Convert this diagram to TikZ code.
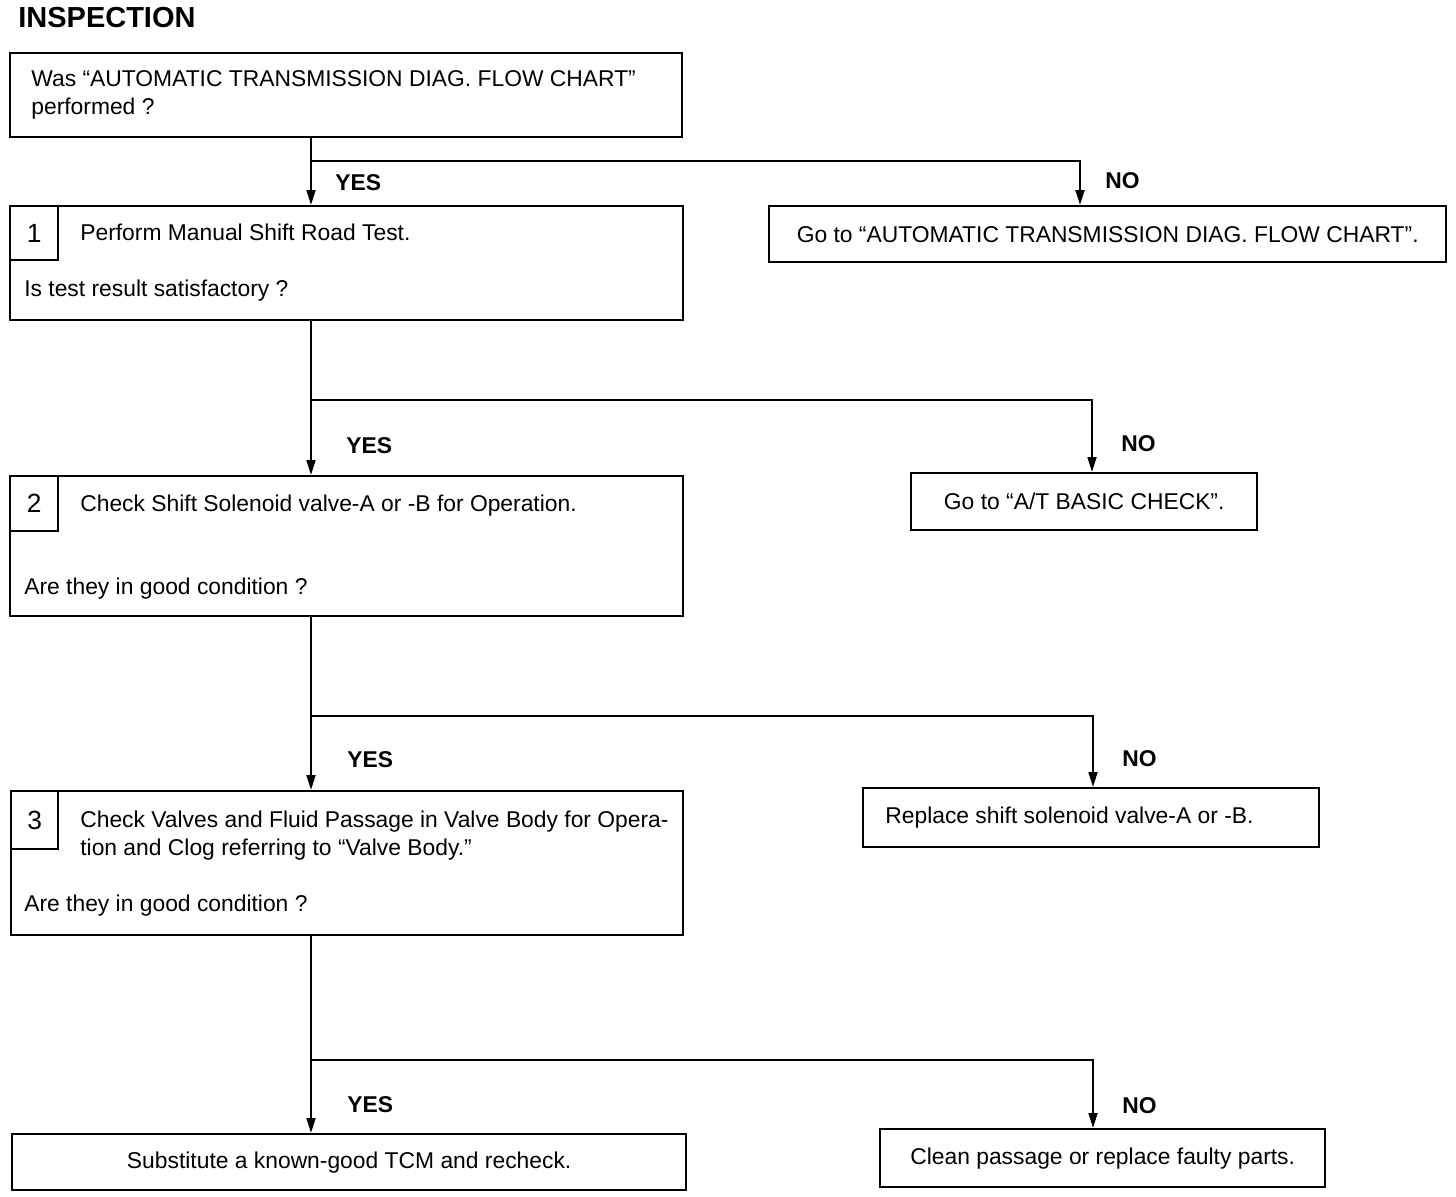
\documentclass[tikz,border=0pt]{standalone}
\usepackage{fontspec}
\setmainfont{Liberation Sans}
\usetikzlibrary{arrows.meta, positioning}
\tikzset{
  box/.style={
    draw, line width=1.4pt,
    inner sep=0pt, anchor=north west,
    font=\fontsize{13}{16}\selectfont
  },
  numbox/.style={
    box, font=\fontsize{15}{18}\selectfont
  },
  txt/.style={
    anchor=base west, inner sep=0pt,
    font=\fontsize{13}{16}\selectfont
  },
  answer/.style={
    anchor=base west, inner sep=0pt,
    font=\fontsize{13}{16}\selectfont\bfseries
  },
  arr/.style={
    -{Triangle[length=8.5pt,width=5pt]},
    line width=1.3pt
  }
}
\begin{document}
\begin{tikzpicture}[x=0.02cm, y=-0.02cm]
  \useasboundingbox (0,0) rectangle (1456,1196);
  % Title
  \node[anchor=base west, inner sep=0pt, font=\fontsize{16.5}{20}\selectfont\bfseries] (title) at (18,28) {INSPECTION};

  % Question box
  \node[box, minimum width=13.44cm, minimum height=1.68cm] (q0) at (9,52) {};
  \node[txt] (q0a) at (31,87) {Was “AUTOMATIC TRANSMISSION DIAG. FLOW CHART”};
  \node[txt] (q0b) at (31,115) {performed ?};

  % Step 1
  \node[box, minimum width=13.46cm, minimum height=2.28cm] (s1) at (9,205) {};
  \node[numbox, minimum width=0.96cm, minimum height=1.08cm] (num1) at (9,205) {1};
  \node[txt] (s1a) at (80,240) {Perform Manual Shift Road Test.};
  \node[txt] (s1b) at (24,296) {Is test result satisfactory ?};
  \node[box, minimum width=13.54cm, minimum height=1.12cm] (n1) at (768,205)
    {Go to “AUTOMATIC TRANSMISSION DIAG. FLOW CHART”.};

  % Step 2
  \node[box, minimum width=13.46cm, minimum height=2.8cm] (s2) at (9,475) {};
  \node[numbox, minimum width=0.96cm, minimum height=1.1cm] (num2) at (9,475) {2};
  \node[txt] (s2a) at (80,511) {Check Shift Solenoid valve-A or -B for Operation.};
  \node[txt] (s2b) at (24,594) {Are they in good condition ?};
  \node[box, minimum width=6.92cm, minimum height=1.14cm] (n2) at (910,472)
    {Go to “A/T BASIC CHECK”.};

  % Step 3
  \node[box, minimum width=13.44cm, minimum height=2.88cm] (s3) at (10,790) {};
  \node[numbox, minimum width=0.94cm, minimum height=1.16cm] (num3) at (10,790) {3};
  \node[txt] (s3a) at (80,827) {Check Valves and Fluid Passage in Valve Body for Opera-};
  \node[txt] (s3b) at (80,855) {tion and Clog referring to “Valve Body.”};
  \node[txt] (s3c) at (24,911) {Are they in good condition ?};
  \node[box, minimum width=9.12cm, minimum height=1.18cm] (n3) at (862,787) {};
  \node[txt] (n3a) at (885,823) {Replace shift solenoid valve-A or -B.};

  % Results
  \node[box, minimum width=13.48cm, minimum height=1.12cm] (y4) at (11,1133)
    {Substitute a known-good TCM and recheck.};
  \node[box, minimum width=8.9cm, minimum height=1.16cm] (n4) at (879,1128)
    {Clean passage or replace faulty parts.};

  % Branch points
  \coordinate (j1) at (311,161);
  \coordinate (k1) at (1080,161);
  \coordinate (j2) at (311,400);
  \coordinate (k2) at (1092,400);
  \coordinate (j3) at (311,716);
  \coordinate (k3) at (1093,716);
  \coordinate (j4) at (311,1060);
  \coordinate (k4) at (1093,1060);

  % Connectors
  \draw[arr] (q0.south -| j1) -- (s1.north -| j1);
  \draw[arr] (j1) -- (k1) -- (n1.north -| k1);
  \draw[arr] (s1.south -| j2) -- (s2.north -| j2);
  \draw[arr] (j2) -- (k2) -- (n2.north -| k2);
  \draw[arr] (s2.south -| j3) -- (s3.north -| j3);
  \draw[arr] (j3) -- (k3) -- (n3.north -| k3);
  \draw[arr] (s3.south -| j4) -- (y4.north -| j4);
  \draw[arr] (j4) -- (k4) -- (n4.north -| k4);

  % Labels
  \node[answer] (yes1) at (335,191) {YES};
  \node[answer] (no1) at (1105,189) {NO};
  \node[answer] (yes2) at (346,453) {YES};
  \node[answer] (no2) at (1121,451) {NO};
  \node[answer] (yes3) at (347,767) {YES};
  \node[answer] (no3) at (1122,766) {NO};
  \node[answer] (yes4) at (347,1112) {YES};
  \node[answer] (no4) at (1122,1113) {NO};
\end{tikzpicture}
\end{document}
